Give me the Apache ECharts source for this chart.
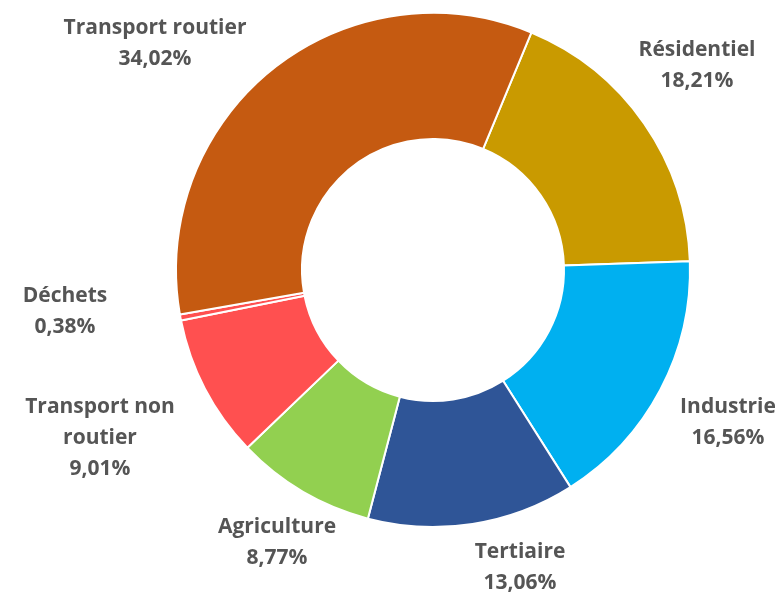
<!DOCTYPE html>
<html>
<head>
<meta charset="utf-8">
<script src="https://cdn.jsdelivr.net/npm/echarts@6/dist/echarts.min.js"></script>
<style>
  html, body { margin: 0; padding: 0; background: #fff; }
  #main { width: 782px; height: 593px; }
</style>
</head>
<body>
<div id="main"></div>
<script>
// secteurs, dans le sens horaire à partir de Résidentiel
const sectors = ['Résidentiel', 'Industrie', 'Tertiaire', 'Agriculture', 'Transport non routier', 'Déchets', 'Transport routier'];
const shares = [18.21, 16.56, 13.06, 8.77, 9.01, 0.38, 34.02];
const colors = ['#C99A00', '#00B0F0', '#2F5597', '#92D050', '#FF5050', '#FF5050', '#C55A11'];

// positions des étiquettes (centre du texte)
const labelPos = [
  [697, 66], [728, 423], [520, 568], [277, 543], [100, 438], [65, 312], [155, 44]
];

const myChart = echarts.init(document.getElementById('main'));
const option = {
  animation: false,
  series: [
    {
      type: 'pie',
      center: [433, 270],
      radius: [131, 257],
      startAngle: 67.5,
      clockwise: true,
      itemStyle: {
        borderColor: '#fff',
        borderWidth: 2
      },
      label: {
        show: true,
        position: 'outside',
        color: '#555555',
        fontFamily: 'Open Sans',
        fontWeight: 'bold',
        fontSize: 21,
        lineHeight: 31,
        align: 'center',
        overflow: 'none',
        formatter: (p) => {
          const name = p.name.replace('non routier', 'non\nroutier');
          return name + '\n' + p.value.toFixed(2).replace('.', ',') + '%';
        }
      },
      labelLine: { show: false },
      labelLayout: (params) => ({
        x: labelPos[params.dataIndex][0],
        y: labelPos[params.dataIndex][1],
        align: 'center',
        verticalAlign: 'middle'
      }),
      data: sectors.map((s, i) => ({
        name: s,
        value: shares[i],
        itemStyle: { color: colors[i] }
      }))
    }
  ]
};
myChart.setOption(option);
</script>
</body>
</html>
